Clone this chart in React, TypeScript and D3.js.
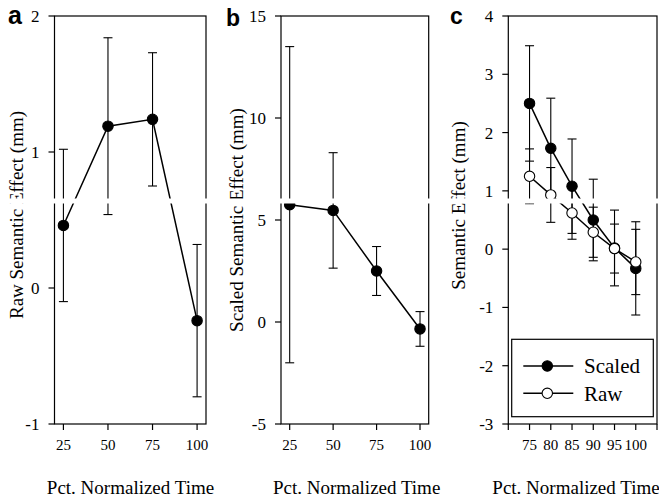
import React from "react";
import * as d3 from "d3";

// ---------- data ----------
const xA = [25, 50, 75, 100];
const rawA = [0.46, 1.19, 1.24, -0.24];
const rawAErr = [0.56, 0.65, 0.49, 0.56];

const xB = [25, 50, 75, 100];
const scaledB = [5.75, 5.47, 2.5, -0.34];
const scaledBErr = [7.75, 2.83, 1.2, 0.85];

const xC = [75, 80, 85, 90, 95, 100];
const scaledC = [2.5, 1.73, 1.08, 0.5, 0.02, -0.33];
const scaledCErr = [0.99, 0.86, 0.81, 0.7, 0.65, 0.8];
const rawC = [1.25, 0.93, 0.62, 0.29, 0.01, -0.22];
const rawCErr = [0.47, 0.47, 0.45, 0.43, 0.42, 0.56];

const ticksYA = [-1, 0, 1, 2];
const ticksYB = [-5, 0, 5, 10, 15];
const ticksYC = [-3, -2, -1, 0, 1, 2, 3, 4];
const ticksXA = [25, 50, 75, 100];
const ticksXC = [70, 75, 80, 85, 90, 95, 100, 105];
const labelsXC = [75, 80, 85, 90, 95, 100];

const legendLabels = ["Scaled", "Raw"];

const SERIF = "'Liberation Serif', 'Times New Roman', serif";
const SANS = "'Liberation Sans', Arial, sans-serif";

type Series = { x: number[]; y: number[]; err: number[]; open: boolean };

type PanelProps = {
  left: number;
  right: number;
  xDomain: [number, number];
  yDomain: [number, number];
  xTicks: number[];
  xLabels: number[];
  yTicks: number[];
  series: Series[];
  yTitle: string;
  yTitlePos: [number, number];
  xTitleX: number;
  letter: string;
  letterPos: [number, number];
  letterSize: number;
};

const TOP = 16;
const BOTTOM = 424;

function Panel(p: PanelProps) {
  const x = d3.scaleLinear().domain(p.xDomain).range([p.left, p.right]);
  const y = d3.scaleLinear().domain(p.yDomain).range([BOTTOM, TOP]);
  const line = d3
    .line<number>()
    .x((_, i) => 0)
    .y(() => 0);
  return (
    <g>
      {/* frame */}
      <rect
        x={p.left}
        y={TOP}
        width={p.right - p.left}
        height={BOTTOM - TOP}
        fill="none"
        stroke="#000"
        strokeWidth={1.2}
      />
      {/* y ticks */}
      {p.yTicks.map((t) => (
        <g key={"y" + t}>
          <line x1={p.left - 6} x2={p.left} y1={y(t)} y2={y(t)} stroke="#000" strokeWidth={1.2} />
          <text
            x={p.left - 15}
            y={y(t)}
            dy="0.35em"
            textAnchor="end"
            fontFamily={SERIF}
            fontSize={17}
          >
            {t}
          </text>
        </g>
      ))}
      {/* x ticks */}
      {p.xTicks.map((t) => (
        <line
          key={"x" + t}
          x1={x(t)}
          x2={x(t)}
          y1={BOTTOM}
          y2={BOTTOM + 6}
          stroke="#000"
          strokeWidth={1.2}
        />
      ))}
      {p.xLabels.map((t) => (
        <text
          key={"xl" + t}
          x={x(t)}
          y={449.5}
          textAnchor="middle"
          fontFamily={SERIF}
          fontSize={15}
        >
          {t}
        </text>
      ))}
      {/* series */}
      {p.series.map((s, si) => {
        const path = d3
          .line<number>()
          .x((_, i) => x(s.x[i]))
          .y((v) => y(v))(s.y);
        return (
          <g key={"s" + si}>
            {s.y.map((v, i) => {
              const cx = x(s.x[i]);
              const y1 = y(v + s.err[i]);
              const y2 = y(v - s.err[i]);
              return (
                <g key={"e" + i} stroke="#000" strokeWidth={1.1}>
                  <line x1={cx} x2={cx} y1={y1} y2={y2} />
                  <line x1={cx - 4.5} x2={cx + 4.5} y1={y1} y2={y1} />
                  <line x1={cx - 4.5} x2={cx + 4.5} y1={y2} y2={y2} />
                </g>
              );
            })}
            <path d={path || ""} fill="none" stroke="#000" strokeWidth={1.5} />
            {s.y.map((v, i) => (
              <circle
                key={"c" + i}
                cx={x(s.x[i])}
                cy={y(v)}
                r={5.2}
                fill={s.open ? "#fff" : "#000"}
                stroke="#000"
                strokeWidth={1.1}
              />
            ))}
          </g>
        );
      })}
      {/* titles */}
      <text
        transform={`translate(${p.yTitlePos[0]},${p.yTitlePos[1]}) rotate(-90)`}
        textAnchor="middle"
        fontFamily={SERIF}
        fontSize={19}
      >
        {p.yTitle}
      </text>
      <text x={p.xTitleX} y={494} textAnchor="middle" fontFamily={SERIF} fontSize={19}>
        Pct. Normalized Time
      </text>
      <text
        x={p.letterPos[0]}
        y={p.letterPos[1]}
        fontFamily={SANS}
        fontWeight="bold"
        fontSize={p.letterSize}
      >
        {p.letter}
      </text>
    </g>
  );
}

export default function App() {
  const legendX = 511.7;
  const legendY = 339.3;
  const legendW = 141.6;
  const legendH = 77.4;
  const legendRows = [366, 393.3];
  return (
    <svg
      width={659}
      height={499}
      style={{ position: "absolute", left: 0, top: 0, background: "#fff" }}
    >
      <rect x={0} y={0} width={659} height={499} fill="#fff" />
      <Panel
        left={54.5}
        right={206}
        xDomain={[20, 105]}
        yDomain={[-1, 2]}
        xTicks={ticksXA}
        xLabels={ticksXA}
        yTicks={ticksYA}
        series={[{ x: xA, y: rawA, err: rawAErr, open: false }]}
        yTitle="Raw Semantic Effect (mm)"
        yTitlePos={[23, 215]}
        xTitleX={130.5}
        letter="a"
        letterPos={[8, 24]}
        letterSize={25}
      />
      <Panel
        left={281}
        right={428.7}
        xDomain={[20, 105]}
        yDomain={[-5, 15]}
        xTicks={ticksXA}
        xLabels={ticksXA}
        yTicks={ticksYB}
        series={[{ x: xB, y: scaledB, err: scaledBErr, open: false }]}
        yTitle="Scaled Semantic Effect (mm)"
        yTitlePos={[243, 220]}
        xTitleX={356.7}
        letter="b"
        letterPos={[226, 26]}
        letterSize={23}
      />
      <Panel
        left={508.3}
        right={657}
        xDomain={[70, 105]}
        yDomain={[-3, 4]}
        xTicks={ticksXC}
        xLabels={labelsXC}
        yTicks={ticksYC}
        series={[
          { x: xC, y: scaledC, err: scaledCErr, open: false },
          { x: xC, y: rawC, err: rawCErr, open: true },
        ]}
        yTitle="Semantic Effect (mm)"
        yTitlePos={[465, 205.5]}
        xTitleX={576}
        letter="c"
        letterPos={[450, 24]}
        letterSize={23}
      />
      {/* legend */}
      <rect
        x={legendX}
        y={legendY}
        width={legendW}
        height={legendH}
        fill="#fff"
        stroke="#000"
        strokeWidth={1.2}
      />
      {legendLabels.map((lab, i) => (
        <g key={lab}>
          <line x1={523.3} x2={573.3} y1={legendRows[i]} y2={legendRows[i]} stroke="#000" strokeWidth={1.5} />
          <circle
            cx={547.3}
            cy={legendRows[i]}
            r={5.2}
            fill={i === 0 ? "#000" : "#fff"}
            stroke="#000"
            strokeWidth={1.1}
          />
          <text x={584} y={legendRows[i]} dy="0.35em" fontFamily={SERIF} fontSize={21}>
            {lab}
          </text>
        </g>
      ))}
      {/* scan band artifact */}
      <rect x={0} y={198.5} width={659} height={5} fill="#fff" />
    </svg>
  );
}
